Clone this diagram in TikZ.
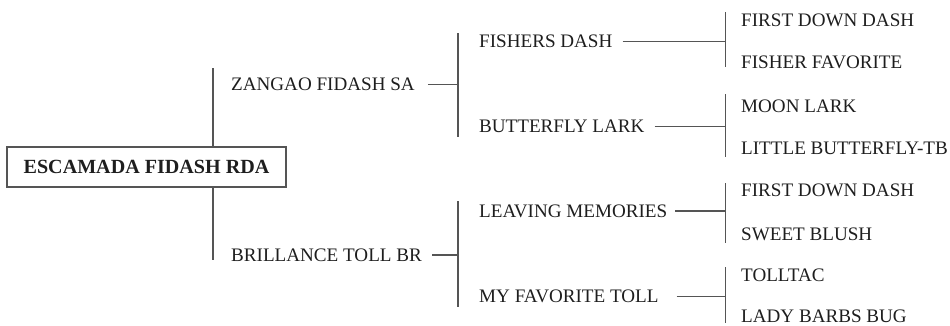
\documentclass[tikz,border=0pt]{standalone}
\usepackage{fontspec}
\setmainfont{Liberation Serif}
\usepackage{tikz}
\usetikzlibrary{positioning}
\definecolor{pedgray}{RGB}{85,85,85}
\definecolor{pedtext}{RGB}{30,30,30}
\tikzstyle{horse} = [anchor=west, inner sep=0pt, text=pedtext, font=\fontsize{19.1}{22}\selectfont]
\tikzstyle{sire} = [rectangle, minimum width=279pt, minimum height=40pt, text centered, draw=pedgray, line width=1.6pt, text=pedtext, font=\bfseries\fontsize{20.1}{22}\selectfont]
\tikzstyle{link} = [draw=pedgray, line width=1.8pt]

\begin{document}
\begin{tikzpicture}[x=1pt, y=-1pt]
\useasboundingbox (0,0) rectangle (950,325);

% Root horse
\node (root) [sire] at (146.5,167) {ESCAMADA FIDASH RDA};

% Bracket ends
\coordinate (rtop) at (213,68);
\coordinate (rbot) at (213,260);
\coordinate (ztop) at (458,33);
\coordinate (zbot) at (458,137);
\coordinate (btop) at (458,201);
\coordinate (bbot) at (458,307);
\coordinate (ftop) at (725.5,12);
\coordinate (fbot) at (725.5,67);
\coordinate (ltop) at (725.5,94);
\coordinate (lbot) at (725.5,157);
\coordinate (mtop) at (725.5,183);
\coordinate (mbot) at (725.5,243);
\coordinate (ttop) at (725.5,267);
\coordinate (tbot) at (725.5,323);

% Parents
\node (zangao) [horse] at (231,84.5) {ZANGAO FIDASH SA};
\node (brillance) [horse] at (231,255) {BRILLANCE TOLL BR};

% Grandparents
\node (fishers) [horse] at (479,41.5) {FISHERS DASH};
\node (butterfly) [horse] at (479,126.5) {BUTTERFLY LARK};
\node (leaving) [horse] at (479,211) {LEAVING MEMORIES};
\node (myfav) [horse] at (479,296.5) {MY FAVORITE TOLL};

% Great-grandparents
\node (firstdown) [horse] at (741,20) {FIRST DOWN DASH};
\node (fisherfav) [horse] at (741,62) {FISHER FAVORITE};
\node (moonlark) [horse] at (741,106) {MOON LARK};
\node (littlebf) [horse] at (741,148) {LITTLE BUTTERFLY-TB};
\node (firstdowntwo) [horse] at (741,190) {FIRST DOWN DASH};
\node (sweetblush) [horse] at (741,234) {SWEET BLUSH};
\node (tolltac) [horse] at (741,275) {TOLLTAC};
\node (ladybarbs) [horse] at (741,316) {LADY BARBS BUG};

% Brackets
\draw[link] (root.north -| rtop) -- (rtop);
\draw[link] (root.south -| rbot) -- (rbot);
\draw[link] (ztop) -- (zbot);
\draw[link] (btop) -- (bbot);
\draw[link] (ftop) -- (fbot);
\draw[link] (ltop) -- (lbot);
\draw[link] (mtop) -- (mbot);
\draw[link] (ttop) -- (tbot);

% Lines to brackets
\draw[link] ([xshift=13pt]zangao.east) -- (zangao.east -| ztop);
\draw[link] ([xshift=10pt]brillance.east) -- (brillance.east -| btop);
\draw[link] ([xshift=10pt]fishers.east) -- (fishers.east -| ftop);
\draw[link] ([xshift=10pt]butterfly.east) -- (butterfly.east -| ltop);
\draw[link] ([xshift=8pt]leaving.east) -- (leaving.east -| mtop);
\draw[link] ([xshift=18pt]myfav.east) -- (myfav.east -| ttop);
\end{tikzpicture}
\end{document}
